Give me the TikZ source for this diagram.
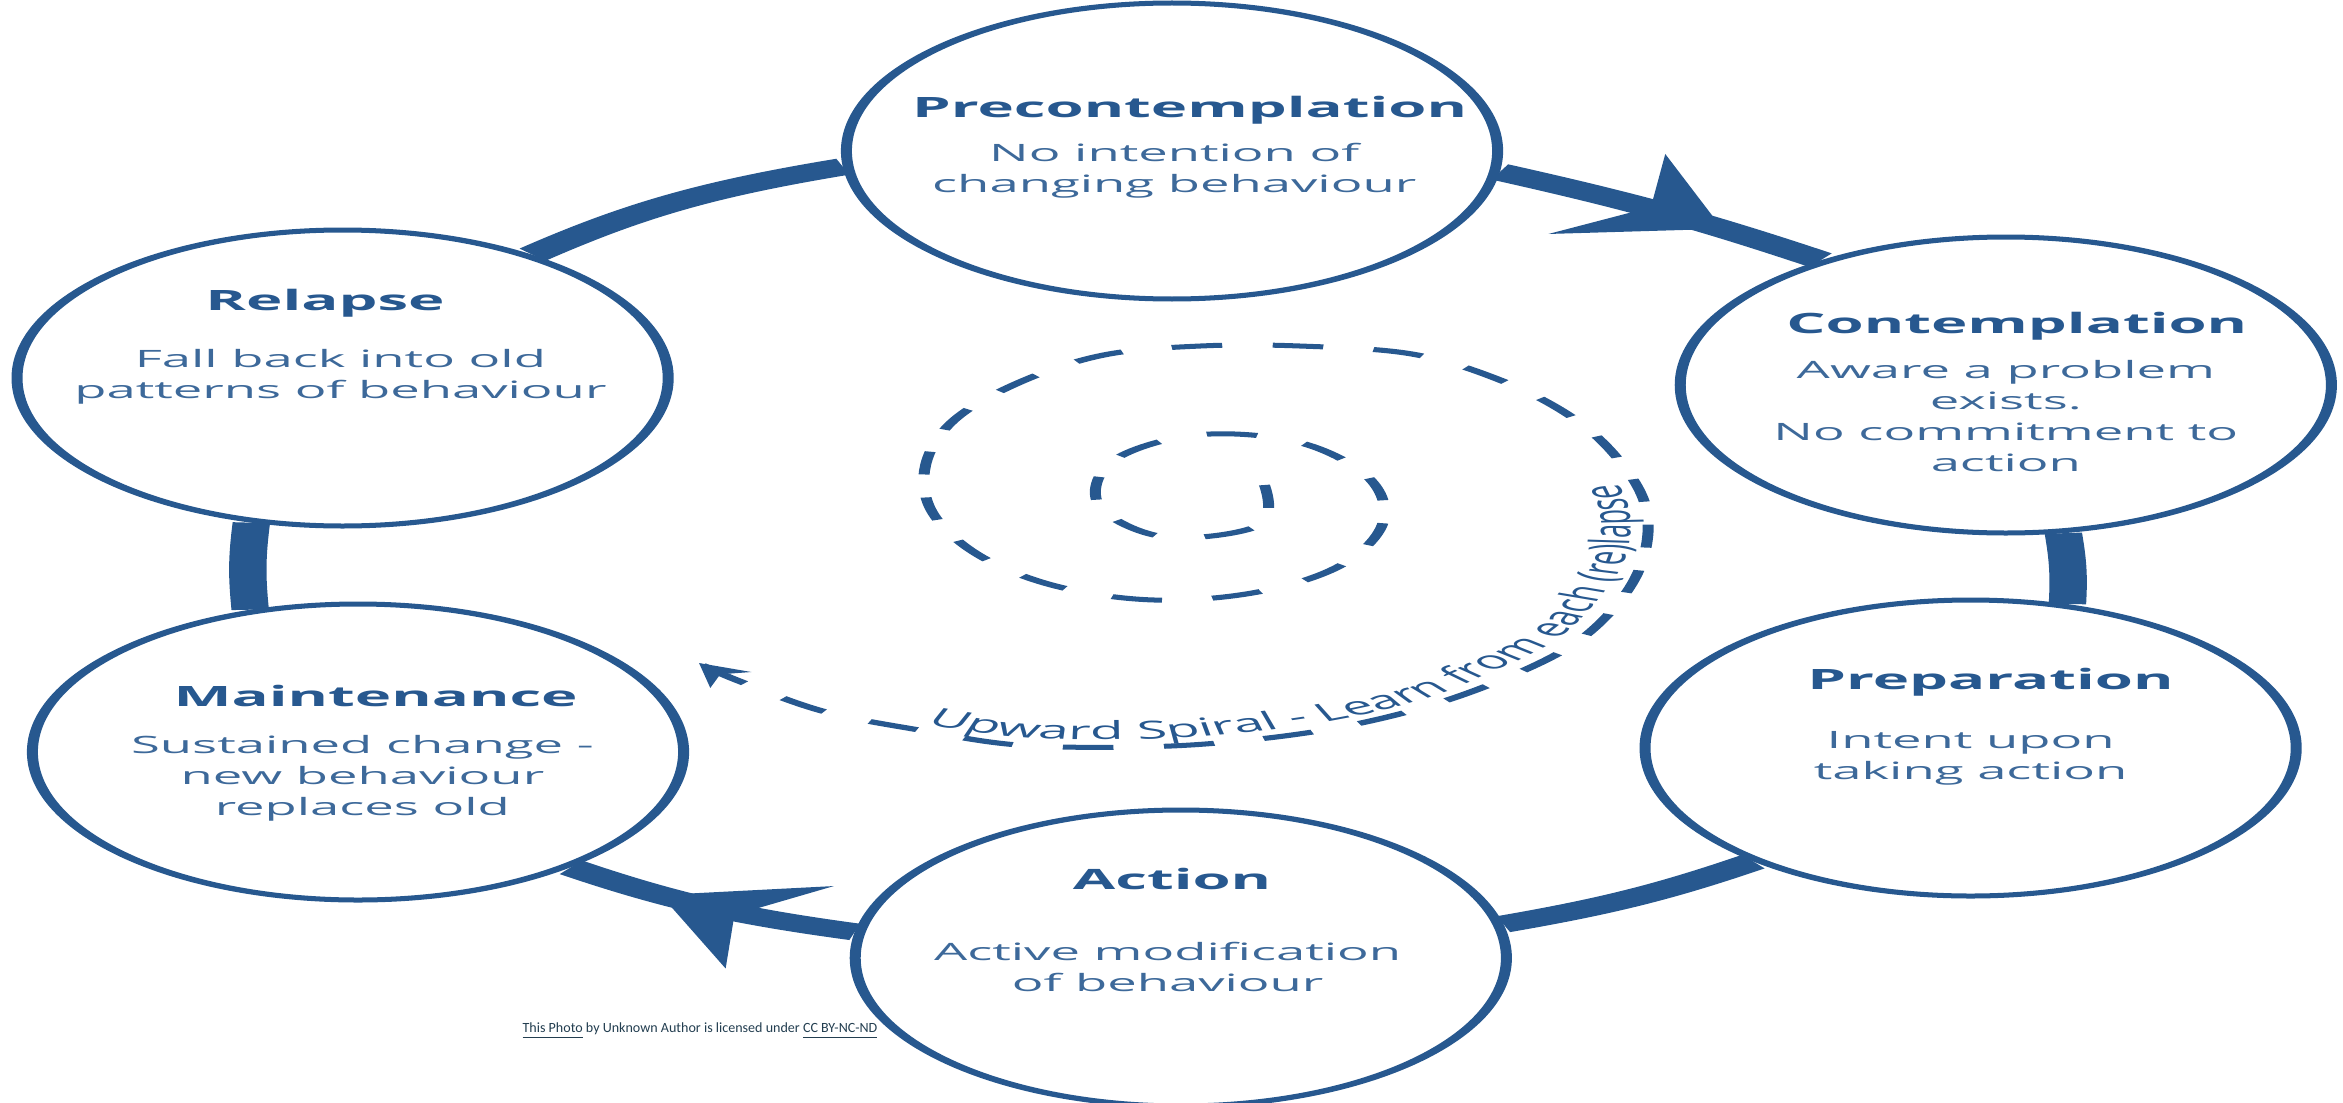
\documentclass[tikz,border=0pt]{standalone}
\usepackage{fontspec}
\setmainfont{Open Sans}
\newfontfamily\creditfont{Carlito}
\usepackage{tikz}
\usetikzlibrary{arrows.meta, positioning, shapes, calc, decorations.markings, decorations.text}
\usepackage{xcolor}

\definecolor{cycleblue}{RGB}{39,88,143}
\definecolor{creditgray}{RGB}{35,62,80}

\newcommand{\spiralfont}{\fontsize{7.1pt}{8pt}\selectfont\color{cycleblue}}

\tikzset{
  stage/.style={circle, draw=cycleblue, line width=0.5mm, fill=white, minimum size=29.6mm, inner sep=0pt},
  stagetitle/.style={text=cycleblue, font=\fontsize{7.97pt}{9pt}\selectfont\bfseries},
  stagetext/.style={text=cycleblue!90!white, align=center, font=\fontsize{6.8pt}{8.8pt}\selectfont},
  link/.style={draw=cycleblue, line width=1.7mm},
  midarrow/.style={postaction={decorate}, decoration={markings,
      mark=at position #1 with {\arrow[cycleblue]{Stealth[length=6.3mm, width=9.6mm, inset=2.4mm, line width=0pt]}}}},
  spiral/.style={draw=cycleblue, line width=0.5mm, dash pattern=on 2.3mm off 2.3mm},
  credit/.style={text=creditgray, font=\creditfont\fontsize{4pt}{5pt}\selectfont, inner sep=0pt}
}

\begin{document}
\begin{tikzpicture}[x=0.1mm, y=-0.1mm]
  \useasboundingbox (0,0) rectangle (2343,1102);

  \begin{scope}[transform canvas={shift={(1172,560)}, xscale=2.2}]
    % Stages around the ring
    \node[stage] (pre) at (0,-409) {};
    \node[stage] (con) at (379,-175) {};
    \node[stage] (prep) at (363,188) {};
    \node[stage] (act) at (4,398) {};
    \node[stage] (mai) at (-370,192) {};
    \node[stage] (rel) at (-377,-182) {};

    % Connectors
    \draw[link, midarrow=0.68] (pre.-8) to[bend left=5] (con.124);
    \draw[link] (con.-80) to[bend left=3] (prep.73);
    \draw[link] (prep.229) to[bend left=8] (act.13);
    \draw[link, midarrow=0.66] (act.170) to[bend left=10] (mai.310);
    \draw[link] (mai.109) to[bend left=3] (rel.254);
    \draw[link] (rel.55) to[bend left=12] (pre.186);

    % Labels
    \node[stagetitle] (pre-title) at ($(pre)+(8,-41)$) {Precontemplation};
    \node[stagetext] (pre-text) at ($(pre)+(1,20)$) {No intention of\\changing behaviour};
    \node[stagetitle] (con-title) at ($(con)+(5,-59)$) {Contemplation};
    \node[stagetext] (con-text) at ($(con)+(0,31)$) {Aware a problem\\exists.\\No commitment to\\action};
    \node[stagetitle] (prep-title) at ($(prep)+(9,-66)$) {Preparation};
    \node[stagetext] (prep-text) at ($(prep)+(0,10)$) {Intent upon\\taking action};
    \node[stagetitle] (act-title) at ($(act)+(-4,-79)$) {Action};
    \node[stagetext] (act-text) at ($(act)+(-6,9)$) {Active modification\\of behaviour};
    \node[stagetitle] (mai-title) at ($(mai)+(8,-56)$) {Maintenance};
    \node[stagetext] (mai-text) at ($(mai)+(2,26)$) {Sustained change -\\new behaviour\\replaces old};
    \node[stagetitle] (rel-title) at ($(rel)+(-8,-75)$) {Relapse};
    \node[stagetext] (rel-text) at ($(rel)+(-1,-1)$) {Fall back into old\\patterns of behaviour};

    % Upward spiral
    \draw[spiral, -{Stealth[length=2.2mm, width=2.4mm]}] plot[smooth, tension=0.6] coordinates {
      (42,-75) (40,-35) (-3,-23) (-33,-54) (-27,-99) (11,-125) (57,-118) (89,-83)
      (96,-38) (77,5) (39,32) (-8,40) (-53,26) (-88,-5) (-109,-48) (-112,-95)
      (-99,-140) (-69,-178) (-31,-205) (13,-214) (58,-214) (109,-206) (149,-180)
      (181,-144) (202,-103) (215,-56) (215,-8) (205,37) (184,82) (153,117)
      (115,147) (72,169) (26,182) (-17,187) (-70,185) (-115,170) (-159,151)
      (-198,120) (-215,103)};
    \path[decorate, decoration={text along path,
        text={|\spiralfont|Upward Spiral - Learn from each (re)lapse}}]
      plot[smooth, tension=0.6] coordinates {
      (-112,164) (-70,177) (-17,179) (26,174) (72,161) (115,139) (148,110)
      (177,76) (197,31) (207,-8) (207,-56) (194,-103) (173,-144)};
  \end{scope}

  % Credit line
  \node[credit] (credit) at (700,1031) {\underline{This Photo} by Unknown Author is licensed under \underline{CC BY-NC-ND}};
\end{tikzpicture}
\end{document}
